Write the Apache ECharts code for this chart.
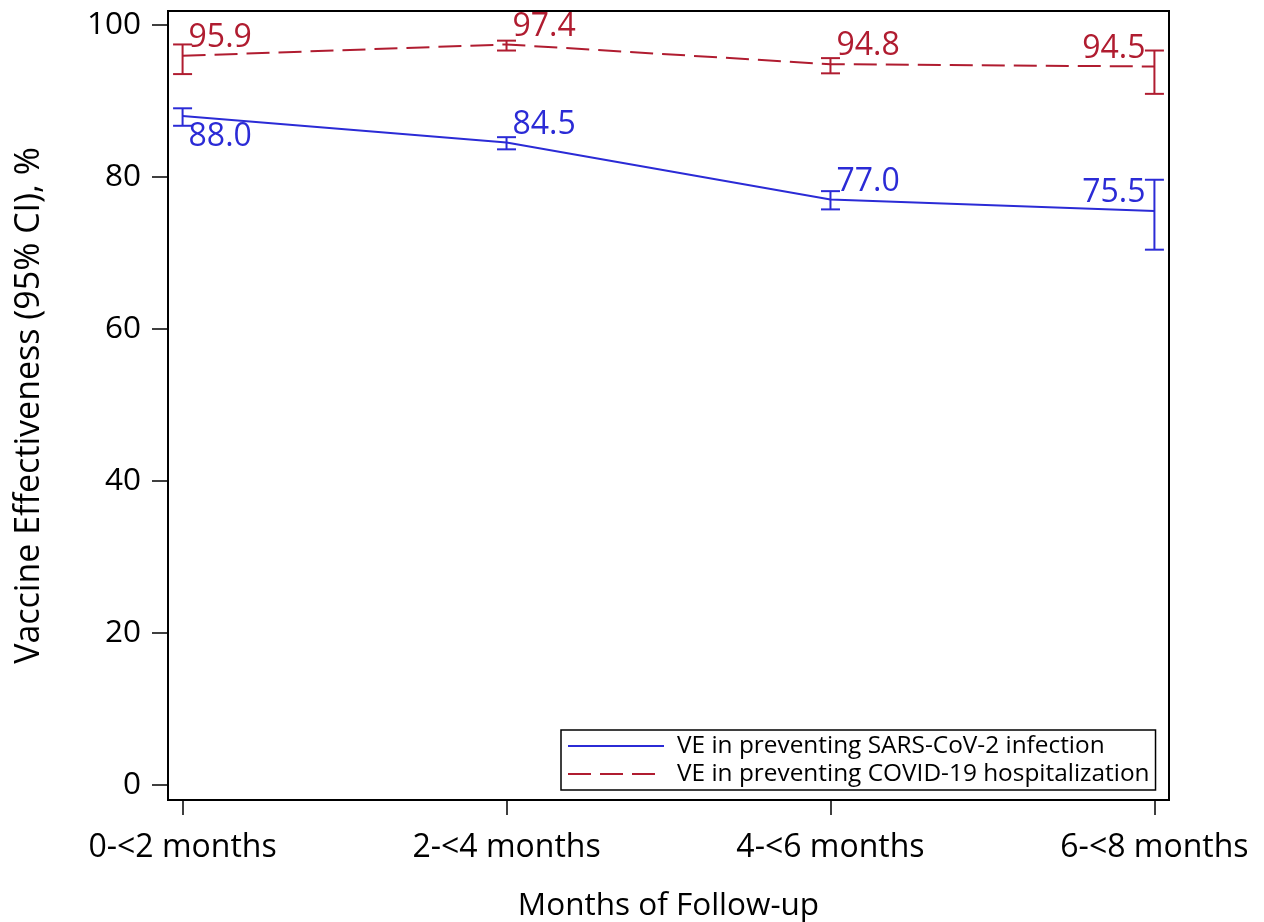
<!DOCTYPE html>
<html>
<head>
<meta charset="utf-8">
<script src="https://cdn.jsdelivr.net/npm/echarts@6/dist/echarts.min.js"></script>
<style>
  html, body { margin: 0; padding: 0; background: #fff; }
  #chart { width: 1264px; height: 922px; }
</style>
</head>
<body>
<div id="chart"></div>
<script>
// Follow-up periods shown along the x axis
const categories = ['0-<2 months', '2-<4 months', '4-<6 months', '6-<8 months'];

// VE against SARS-CoV-2 infection, with 95% CI bounds
const infectionVE = [88.0, 84.5, 77.0, 75.5];
const infectionLower = [86.7, 83.6, 75.7, 70.4];
const infectionUpper = [89.0, 85.2, 78.1, 79.6];

// VE against COVID-19 hospitalization, with 95% CI bounds
const hospVE = [95.9, 97.4, 94.8, 94.5];
const hospLower = [93.5, 96.6, 93.6, 90.9];
const hospUpper = [97.4, 97.9, 95.6, 96.6];

// Y axis tick values
const yTicks = [0, 20, 40, 60, 80, 100];

const FONT = '"Open Sans", "Liberation Sans", Arial, sans-serif';
const BLUE = '#2b2bd6';
const RED = '#b01c30';

const chart = echarts.init(document.getElementById('chart'), null, { renderer: 'canvas' });

function toLine(values) {
  return values.map((v, i) => [i, v]);
}
function toBars(values, lower, upper) {
  return values.map((v, i) => [i, v, lower[i], upper[i]]);
}

// Draws a CI whisker with caps plus the point's value label.
// placement: [side, vertical] -> side 'r' puts label right of point, 'l' left;
// vertical 'a' above the point, 'b' below.
function errorBar(color, placement) {
  return function (params, api) {
    const x = api.value(0);
    const mid = api.value(1);
    const pMid = api.coord([x, mid]);
    const pLo = api.coord([x, api.value(2)]);
    const pHi = api.coord([x, api.value(3)]);
    const cap = 9.5;
    const st = { stroke: color, lineWidth: 2 };
    const pl = placement[params.dataIndex];
    const right = pl[0] === 'r';
    const above = pl[1] === 'a';
    return {
      type: 'group',
      children: [
        { type: 'line', shape: { x1: pHi[0], y1: pHi[1], x2: pLo[0], y2: pLo[1] }, style: st },
        { type: 'line', shape: { x1: pHi[0] - cap, y1: pHi[1], x2: pHi[0] + cap, y2: pHi[1] }, style: st },
        { type: 'line', shape: { x1: pLo[0] - cap, y1: pLo[1], x2: pLo[0] + cap, y2: pLo[1] }, style: st },
        {
          type: 'text',
          style: {
            text: mid.toFixed(1),
            x: right ? pMid[0] + 6 : pMid[0] - 9,
            y: above ? pMid[1] - 18 : pMid[1] + 21,
            fill: color,
            font: '32px ' + FONT,
            align: right ? 'left' : 'right',
            verticalAlign: 'middle'
          }
        }
      ]
    };
  };
}

const option = {
  backgroundColor: '#fff',
  animation: false,
  textStyle: { fontFamily: FONT },
  grid: {
    left: 168, right: 95, top: 11, bottom: 122,
    outerBoundsMode: 'none',
    containLabel: false,
    show: true, borderColor: '#000', borderWidth: 2, backgroundColor: 'transparent'
  },
  xAxis: {
    type: 'value',
    min: -0.045,
    max: 3.045,
    name: 'Months of Follow-up',
    nameLocation: 'middle',
    nameGap: 90,
    nameTextStyle: { fontSize: 31.5, color: '#000', fontFamily: FONT },
    axisLine: { show: true, onZero: false, lineStyle: { color: '#000', width: 2 } },
    axisTick: { show: true, inside: false, length: 15, customValues: [0, 1, 2, 3], lineStyle: { color: '#000', width: 1.5 } },
    axisLabel: {
      customValues: [0, 1, 2, 3],
      formatter: v => categories[Math.round(v)] || '',
      fontSize: 32, color: '#000', margin: 32, fontFamily: FONT
    },
    splitLine: { show: false }
  },
  yAxis: {
    type: 'value',
    min: -2,
    max: 101.8,
    name: 'Vaccine Effectiveness (95% CI), %',
    nameLocation: 'middle',
    nameRotate: 90,
    nameGap: 122,
    nameTextStyle: { fontSize: 34, color: '#000', fontFamily: FONT },
    axisLine: { show: true, onZero: false, lineStyle: { color: '#000', width: 2 } },
    axisTick: { show: true, inside: false, length: 16, customValues: yTicks, lineStyle: { color: '#000', width: 1.5 } },
    axisLabel: { customValues: yTicks, fontSize: 31.5, color: '#000', margin: 27, fontFamily: FONT },
    splitLine: { show: false }
  },
  legend: {
    data: ['VE in preventing SARS-CoV-2 infection', 'VE in preventing COVID-19 hospitalization'],
    orient: 'vertical',
    left: 561,
    top: 730,
    padding: [4, 6, 4, 6],
    itemWidth: 96,
    itemHeight: 14,
    itemGap: 4,
    itemStyle: { opacity: 0 },
    borderColor: '#000',
    borderWidth: 1.5,
    borderRadius: 0,
    backgroundColor: '#fff',
    textStyle: { fontSize: 24.4, color: '#000', lineHeight: 24, padding: [0, 0, 0, 8], fontFamily: FONT }
  },
  series: [
    {
      name: 'VE in preventing SARS-CoV-2 infection',
      type: 'line',
      data: toLine(infectionVE),
      symbol: 'none',
      lineStyle: { color: BLUE, width: 2 },
      itemStyle: { color: BLUE },
      z: 3
    },
    {
      name: 'VE in preventing COVID-19 hospitalization',
      type: 'line',
      data: toLine(hospVE),
      symbol: 'none',
      lineStyle: { color: RED, width: 2, type: [23, 9] },
      itemStyle: { color: RED },
      z: 3
    },
    {
      type: 'custom',
      data: toBars(infectionVE, infectionLower, infectionUpper),
      renderItem: errorBar(BLUE, [['r', 'b'], ['r', 'a'], ['r', 'a'], ['l', 'a']]),
      encode: { x: 0, y: [2, 3] },
      z: 4
    },
    {
      type: 'custom',
      data: toBars(hospVE, hospLower, hospUpper),
      renderItem: errorBar(RED, [['r', 'a'], ['r', 'a'], ['r', 'a'], ['l', 'a']]),
      encode: { x: 0, y: [2, 3] },
      z: 4
    }
  ]
};

chart.setOption(option);
</script>
</body>
</html>
